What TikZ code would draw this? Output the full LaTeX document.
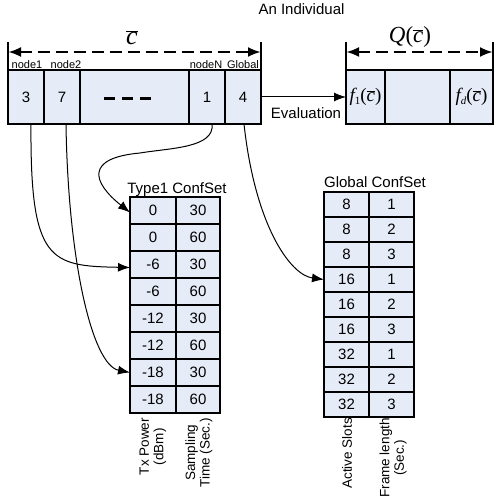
\documentclass[tikz,border=0pt]{standalone}
\usepackage{fontspec}
\setmainfont{Liberation Sans}
\newfontfamily\serif{Liberation Serif}
\usetikzlibrary{arrows.meta}
\definecolor{cellfill}{RGB}{230,236,247}
\newcommand{\cbarsym}{$\overline{\hbox{\serif\itshape c}}$}
\begin{document}
\begin{tikzpicture}[x=1pt,y=-1pt,
  cell/.style={draw=black, line width=1.4pt, fill=cellfill, inner sep=0pt, outer sep=0pt, font=\fontsize{15}{15}\selectfont},
  lbl/.style={font=\fontsize{15}{17}\selectfont, inner sep=0pt, anchor=base},
  small/.style={font=\fontsize{11}{11}\selectfont, inner sep=0pt, anchor=base},
  rot/.style={rotate=90, anchor=east, align=center, font=\fontsize{13.5}{14.5}\selectfont, inner sep=0pt},
  dim/.style={line width=2.6pt, dash pattern=on 12pt off 6pt, {Latex[length=13pt,width=10pt]}-{Latex[length=13pt,width=10pt]}},
  tick/.style={line width=1.2pt},
  conn/.style={line width=1pt, -{Latex[length=12pt,width=9pt]}}
]
\useasboundingbox (0,0) rectangle (495,497);

% individual vector
\node[cell, minimum width=36pt, minimum height=54pt] (c1) at (26,97) {3};
\node[cell, minimum width=36pt, minimum height=54pt] (c2) at (62,97) {7};
\node[cell, minimum width=109pt, minimum height=54pt] (c3) at (134.5,97) {};
\node[cell, minimum width=36pt, minimum height=54pt] (c4) at (207,97) {1};
\node[cell, minimum width=36pt, minimum height=54pt] (c5) at (243,97) {4};
\draw[line width=3pt, dash pattern=on 11pt off 7pt] (104,99) -- (153,99);

\node[small] (l1) at (27,69) {node1};
\node[small] (l2) at (66,69) {node2};
\node[small] (l3) at (206,69) {nodeN};
\node[small] (l4) at (243,69) {Global};

\draw[tick] (c1.north west) -- ++(0,-28);
\draw[tick] (c5.north east) -- ++(0,-28);
\coordinate (dl) at (8,52);
\coordinate (dr) at (261,52);
\draw[dim] (dl) -- (dr);
\node[inner sep=0pt, font=\fontsize{26}{26}\selectfont] (cbar) at (132,38) {\cbarsym};

% Q vector
\node[cell, minimum width=39pt, minimum height=54pt, font=\fontsize{19}{19}\selectfont] (q1) at (365.5,97)
  {{\serif\itshape f}\raisebox{-3pt}{\fontsize{11}{11}\selectfont\serif 1}{\serif(}\cbarsym{\serif)}};
\node[cell, minimum width=65pt, minimum height=54pt] (q2) at (417.5,97) {};
\node[cell, minimum width=43pt, minimum height=54pt, font=\fontsize{19}{19}\selectfont] (q3) at (471.5,97)
  {{\serif\itshape f}\raisebox{-3pt}{\fontsize{11}{11}\selectfont\serif\itshape d}{\serif(}\cbarsym{\serif)}};
\draw[tick] (q1.north west) -- ++(0,-28);
\draw[tick] (q3.north east) -- ++(0,-28);
\coordinate (ql) at (346,52);
\coordinate (qr) at (493,52);
\draw[dim] (ql) -- (qr);
\node[inner sep=0pt, font=\fontsize{23}{23}\selectfont] (qlab) at (410,37)
  {{\serif\itshape Q}{\serif(}\cbarsym{\serif)}};

\node[lbl] (title) at (301.5,15) {An Individual};

% evaluation
\draw[conn] (c5.east) -- (q1.west);
\node[lbl] (eval) at (306,119) {Evaluation};

% Type1 table
\node[lbl] (t1) at (177,193) {Type1 ConfSet};
\foreach \i/\a/\b in {0/0/30,1/0/60,2/-6/30,3/-6/60,4/-12/30,5/-12/60,6/-18/30,7/-18/60} {
  \node[cell, minimum width=46pt, minimum height=27pt] (ta\i) at (153,{210.5+27*\i}) {\a};
  \node[cell, minimum width=44pt, minimum height=27pt] (tb\i) at (198,{210.5+27*\i}) {\b};
}
\node[rot] (r1) at (153,418) {Tx Power\\(dBm)};
\node[rot] (r2) at (199,418) {Sampling\\Time (Sec.)};

% Global table
\node[lbl] (t2) at (375,187) {Global ConfSet};
\foreach \i/\a/\b in {0/8/1,1/8/2,2/8/3,3/16/1,4/16/2,5/16/3,6/32/1,7/32/2,8/32/3} {
  \node[cell, minimum width=45pt, minimum height=25pt] (ga\i) at (346.5,{204.5+25*\i}) {\a};
  \node[cell, minimum width=45pt, minimum height=25pt] (gb\i) at (391.5,{204.5+25*\i}) {\b};
}
\node[rot] (r3) at (347,418) {Active Slots};
\node[rot] (r4) at (393,418) {Frame length\\(Sec.)};

% connectors
\draw[conn] ([xshift=5pt]c1.south) .. controls (30,262) and (50,266) .. ([yshift=-3pt]ta2.west);
\draw[conn] ([xshift=4pt]c2.south) .. controls (68,260) and (92,365) .. (ta6.west);
\draw[conn] ([xshift=5pt]c4.south) .. controls (215,148) and (170,148) .. (140,153)
  .. controls (85,158) and (92,182) .. ([yshift=-2pt]ta0.west);
\draw[conn] ([xshift=1pt]c5.south) .. controls (255,225) and (290,275) .. (ga3.west);
\end{tikzpicture}
\end{document}
